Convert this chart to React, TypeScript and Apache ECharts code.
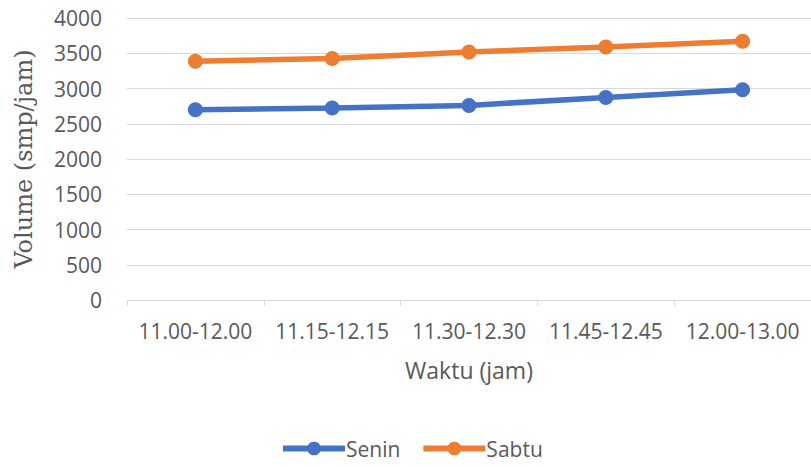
import React, { useEffect, useRef } from "react";
import * as echarts from "echarts";

const categories = ["11.00-12.00", "11.15-12.15", "11.30-12.30", "11.45-12.45", "12.00-13.00"];
const seninValues = [2700, 2724, 2760, 2874, 2983];
const sabtuValues = [3385, 3427, 3519, 3590, 3670];
const seriesNames = ["Senin", "Sabtu"];

export default function App() {
  const ref = useRef<HTMLDivElement>(null);
  useEffect(() => {
    if (!ref.current) return;
    const chart = echarts.init(ref.current, null, { renderer: "svg" });
    const labelFont = "'Open Sans', sans-serif";
    chart.setOption({
      animation: false,
      backgroundColor: "#ffffff",
      color: ["#4472C4", "#ED7D31"],
      grid: { left: 127, top: 18, bottom: 167, width: 685, containLabel: false },
      legend: {
        bottom: 3,
        left: 275,
        itemWidth: 62,
        itemHeight: 17,
        itemGap: 20,
        lineStyle: { width: 6 },
        textStyle: { color: "#595959", fontSize: 21, fontFamily: labelFont, padding: [0, 0, 0, -4] },
        data: seriesNames,
      },
      xAxis: {
        type: "category",
        data: categories,
        boundaryGap: true,
        axisLine: { lineStyle: { color: "#d9d9d9", width: 1 } },
        axisTick: { show: true, length: 6, interval: 0, lineStyle: { color: "#d9d9d9" } },
        axisLabel: { color: "#595959", fontSize: 21, fontFamily: labelFont, margin: 20, interval: 0 },
        name: "Waktu (jam)",
        nameLocation: "middle",
        nameGap: 58,
        nameTextStyle: { color: "#595959", fontSize: 23, fontFamily: labelFont },
      },
      yAxis: {
        type: "value",
        min: 0,
        max: 4000,
        interval: 500,
        axisLine: { show: false },
        axisTick: { show: false },
        splitLine: { lineStyle: { color: "#d9d9d9", width: 1 } },
        axisLabel: {
          color: "#595959",
          fontSize: 21,
          fontFamily: labelFont,
          margin: 25,
          formatter: (v: number) => String(v),
        },
        name: "Volume (smp/jam)",
        nameLocation: "middle",
        nameRotate: 90,
        nameGap: 91,
        nameTextStyle: { color: "#595959", fontSize: 24, fontFamily: "'DejaVu Serif', serif" },
      },
      series: [
        {
          name: seriesNames[0],
          type: "line",
          data: seninValues,
          symbol: "circle",
          symbolSize: 15,
          lineStyle: { width: 5.5 },
        },
        {
          name: seriesNames[1],
          type: "line",
          data: sabtuValues,
          symbol: "circle",
          symbolSize: 15,
          lineStyle: { width: 5.5 },
        },
      ],
    });
    return () => chart.dispose();
  }, []);
  return (
    <div
      ref={ref}
      style={{ position: "fixed", left: 0, top: 0, width: 811, height: 467 }}
    />
  );
}
